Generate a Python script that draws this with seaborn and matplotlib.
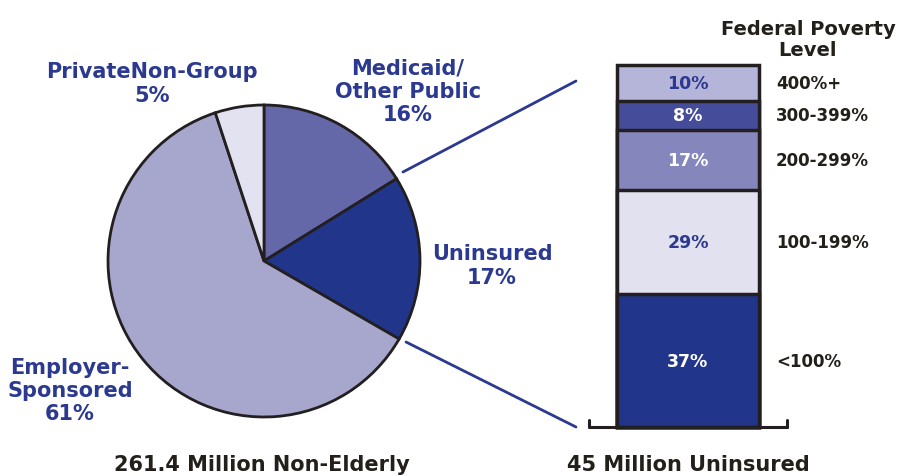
import numpy as np
import matplotlib
matplotlib.use("Agg")
import matplotlib.pyplot as plt
import seaborn as sns
import pandas as pd
from matplotlib.lines import Line2D

sns.set_theme(style="white")
plt.rcParams["font.family"] = ["DejaVu Sans"]
plt.rcParams["font.weight"] = "bold"

# ── data ─────────────────────────────────────────────
pie_labels = ["Medicaid/\nOther Public", "Uninsured", "Employer-\nSponsored", "PrivateNon-Group"]
pie_values = [16, 17, 61, 5]
pie_colors = ["#6468A8", "#21358A", "#A7A7CD", "#E2E2F0"]

fpl_labels = ["<100%", "100-199%", "200-299%", "300-399%", "400%+"]
fpl_values = [37, 29, 17, 8, 10]
fpl_colors = ["#21358A", "#E1E1EF", "#8486BC", "#454D9A", "#B4B5D8"]
fpl_text = ["white", "#2B3990", "white", "white", "#2B3990"]

NAVY = "#2B3990"
DARK = "#231F1A"
EDGE = "#231F20"

W, H = 899, 477
fig = plt.figure(figsize=(W / 100, H / 100), dpi=100)


def px(x, y):
    return x / W, 1 - y / H


# ── pie ──────────────────────────────────────────────
cx, cy, r = 264, 262, 156
ax = fig.add_axes([(cx - r) / W, (H - cy - r) / H, 2 * r / W, 2 * r / H])
ax.pie(pie_values, colors=pie_colors, startangle=90, counterclock=False,
       wedgeprops=dict(edgecolor=EDGE, linewidth=2))
ax.set_xlim(-1, 1)
ax.set_ylim(-1, 1)
ax.set_aspect("auto")
ax.axis("off")

lab_pos = [(408, 92), (492, 266), (70, 391), (152, 84)]
for (lx, ly), lab, v in zip(lab_pos, pie_labels, pie_values):
    fig.text(*px(lx, ly), f"{lab}\n{v}%", ha="center", va="center",
             color=NAVY, fontsize=15, linespacing=1.2, fontweight="bold")

# ── stacked bar ──────────────────────────────────────
bx0, bx1, btop, bbot = 617, 759, 66, 428
bax = fig.add_axes([bx0 / W, (H - bbot) / H, (bx1 - bx0) / W, (bbot - btop) / H])
cum = np.cumsum(fpl_values)
# draw cumulative bars from the top down so each segment shows
for i in range(len(fpl_values) - 1, -1, -1):
    df = pd.DataFrame({"x": ["u"], "y": [cum[i]]})
    sns.barplot(data=df, x="x", y="y", ax=bax, color=fpl_colors[i], width=1.0,
                saturation=1, edgecolor=EDGE, linewidth=2.5)
for p in bax.patches:
    p.set_clip_on(False)
bax.set_xlim(-0.5, 0.5)
bax.set_ylim(0, cum[-1])
bax.axis("off")

bottoms = cum - np.array(fpl_values)
for b, v, lab, tc in zip(bottoms, fpl_values, fpl_labels, fpl_text):
    yc = b + v / 2
    bax.text(0, yc, f"{v}%", ha="center", va="center", color=tc,
             fontsize=12.5, fontweight="bold")
    bax.text(0.62, yc, lab, ha="left", va="center", color=DARK,
             fontsize=12, fontweight="bold", clip_on=False)

fig.text(*px(808, 40), "Federal Poverty\nLevel", ha="center", va="center",
         color=DARK, fontsize=14, linespacing=1.1, fontweight="bold")

# bracket under the bar
for seg in [((589, 428), (787, 428)), ((589, 421), (589, 428)), ((787, 421), (787, 428))]:
    (x0, y0), (x1, y1) = seg
    fig.add_artist(Line2D([x0 / W, x1 / W], [1 - y0 / H, 1 - y1 / H],
                          color=EDGE, linewidth=2.2, transform=fig.transFigure))

# connector lines from uninsured slice to bar
for (x0, y0), (x1, y1) in [((403, 173), (576, 82)), ((406, 343), (576, 428))]:
    fig.add_artist(Line2D([x0 / W, x1 / W], [1 - y0 / H, 1 - y1 / H],
                          color=NAVY, linewidth=2, transform=fig.transFigure))

fig.text(*px(262, 465), "261.4 Million Non-Elderly", ha="center", va="center",
         color=DARK, fontsize=15, fontweight="bold")
fig.text(*px(688, 465), "45 Million Uninsured", ha="center", va="center",
         color=DARK, fontsize=15, fontweight="bold")

fig.savefig("out.png", dpi=100)
